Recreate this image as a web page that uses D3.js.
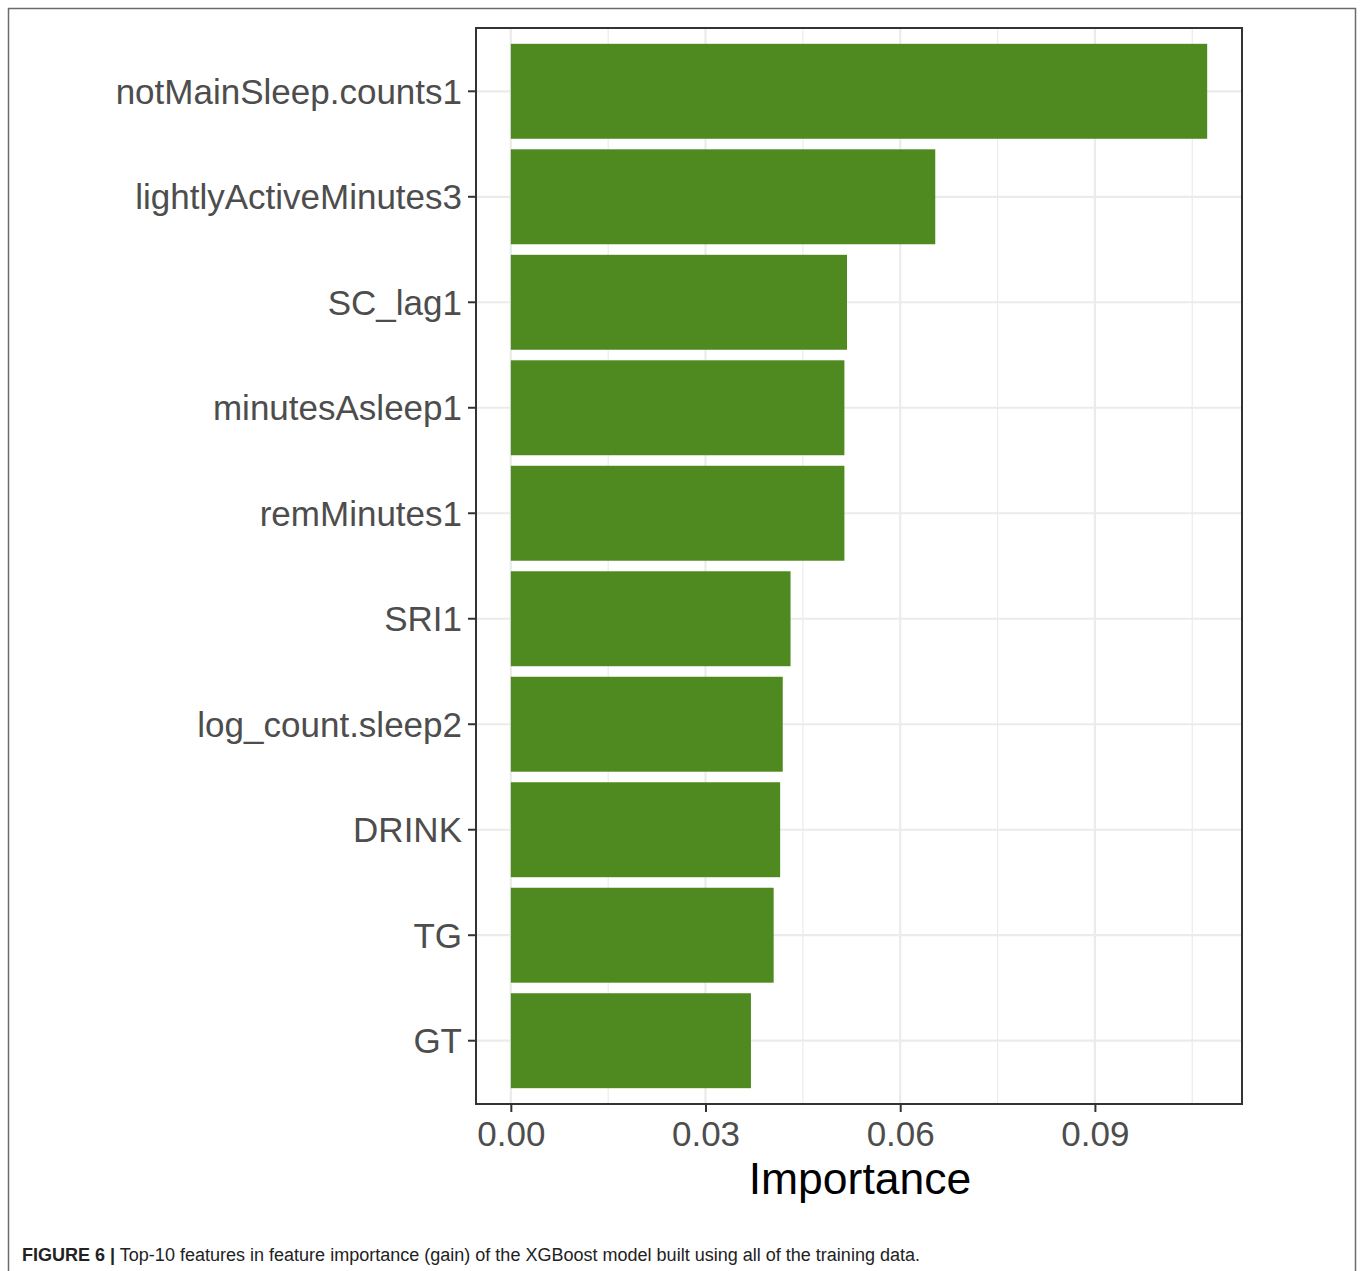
<!DOCTYPE html>
<html>
<head>
<meta charset="utf-8">
<script src="https://cdn.jsdelivr.net/npm/d3@7"></script>
<style>
  html, body { margin: 0; padding: 0; background: #ffffff; }
  svg { display: block; }
</style>
</head>
<body>
<svg id="chart" width="1360" height="1271"></svg>
<script>
// Feature importance (gain), top-10 features, ordered from largest to smallest
const features = [
  "notMainSleep.counts1",
  "lightlyActiveMinutes3",
  "SC_lag1",
  "minutesAsleep1",
  "remMinutes1",
  "SRI1",
  "log_count.sleep2",
  "DRINK",
  "TG",
  "GT"
];
const importance = [0.1073, 0.0654, 0.0518, 0.0514, 0.0514, 0.0431, 0.0419, 0.0415, 0.0405, 0.0370];
const xTicks = [0.00, 0.03, 0.06, 0.09];
const xMinorTicks = [0.015, 0.045, 0.075, 0.105];
const xTitle = "Importance";
const captionBold = "FIGURE 6 |";
const captionText = " Top-10 features in feature importance (gain) of the XGBoost model built using all of the training data.";

const svg = d3.select("#chart");
const font = "'Liberation Sans', Arial, Helvetica, sans-serif";

// Outer figure frame
svg.append("rect")
  .attr("x", 8.5).attr("y", 8.5)
  .attr("width", 1347).attr("height", 1300)
  .attr("fill", "none").attr("stroke", "#6b6b6b").attr("stroke-width", 1.5);

// Plot panel
const panel = { left: 476, top: 28, right: 1242, bottom: 1104 };

const maxVal = d3.max(importance);
const pad = maxVal * 0.05;
const x = d3.scaleLinear()
  .domain([-pad, maxVal + pad])
  .range([panel.left, panel.right]);

const y = d3.scaleBand()
  .domain(features)
  .range([panel.top, panel.bottom])
  .paddingInner(0.1)
  .paddingOuter(0.15);

const g = svg.append("g");

// Minor vertical grid
g.selectAll("line.minor")
  .data(xMinorTicks.filter(v => x(v) < panel.right))
  .join("line")
  .attr("class", "minor")
  .attr("x1", d => x(d)).attr("x2", d => x(d))
  .attr("y1", panel.top).attr("y2", panel.bottom)
  .attr("stroke", "#ececec").attr("stroke-width", 1.2);

// Major vertical grid
g.selectAll("line.majorx")
  .data(xTicks)
  .join("line")
  .attr("class", "majorx")
  .attr("x1", d => x(d)).attr("x2", d => x(d))
  .attr("y1", panel.top).attr("y2", panel.bottom)
  .attr("stroke", "#ebebeb").attr("stroke-width", 2.2);

// Major horizontal grid at each category
g.selectAll("line.majory")
  .data(features)
  .join("line")
  .attr("class", "majory")
  .attr("x1", panel.left).attr("x2", panel.right)
  .attr("y1", d => y(d) + y.bandwidth() / 2)
  .attr("y2", d => y(d) + y.bandwidth() / 2)
  .attr("stroke", "#ebebeb").attr("stroke-width", 2.2);

// Bars
g.selectAll("rect.bar")
  .data(features.map((f, i) => ({ f, v: importance[i] })))
  .join("rect")
  .attr("class", "bar")
  .attr("x", x(0))
  .attr("y", d => y(d.f))
  .attr("width", d => x(d.v) - x(0))
  .attr("height", y.bandwidth())
  .attr("fill", "#4f8a21");

// Panel border
svg.append("rect")
  .attr("x", panel.left).attr("y", panel.top)
  .attr("width", panel.right - panel.left)
  .attr("height", panel.bottom - panel.top)
  .attr("fill", "none").attr("stroke", "#333333").attr("stroke-width", 2);

// X axis
const xAxis = d3.axisBottom(x)
  .tickValues(xTicks)
  .tickFormat(d3.format(".2f"))
  .tickSize(8)
  .tickPadding(9);
const gx = svg.append("g")
  .attr("transform", `translate(0,${panel.bottom})`)
  .call(xAxis);
gx.select(".domain").remove();
gx.selectAll(".tick line").attr("stroke", "#333333").attr("stroke-width", 2);
gx.selectAll(".tick text")
  .attr("fill", "#4d4d4d")
  .style("font-family", font)
  .style("font-size", "35px");

// Y axis
const yAxis = d3.axisLeft(y).tickSize(8).tickPadding(6);
const gy = svg.append("g")
  .attr("transform", `translate(${panel.left},0)`)
  .call(yAxis);
gy.select(".domain").remove();
gy.selectAll(".tick line").attr("stroke", "#333333").attr("stroke-width", 2);
gy.selectAll(".tick text")
  .attr("fill", "#4d4d4d")
  .attr("dy", "0.36em")
  .style("font-family", font)
  .style("font-size", "35px");

// X axis title
svg.append("text")
  .attr("x", (panel.left + panel.right) / 2 + 1)
  .attr("y", 1194)
  .attr("text-anchor", "middle")
  .attr("fill", "#000000")
  .style("font-family", font)
  .style("font-size", "44.5px")
  .text(xTitle);

// Figure caption
const cap = svg.append("text")
  .attr("x", 22)
  .attr("y", 1261)
  .attr("fill", "#222222")
  .style("font-family", font)
  .style("font-size", "18px")
  .attr("textLength", 898)
  .attr("lengthAdjust", "spacingAndGlyphs");
cap.append("tspan").attr("font-weight", "bold").text(captionBold);
cap.append("tspan").text(captionText);
</script>
</body>
</html>
